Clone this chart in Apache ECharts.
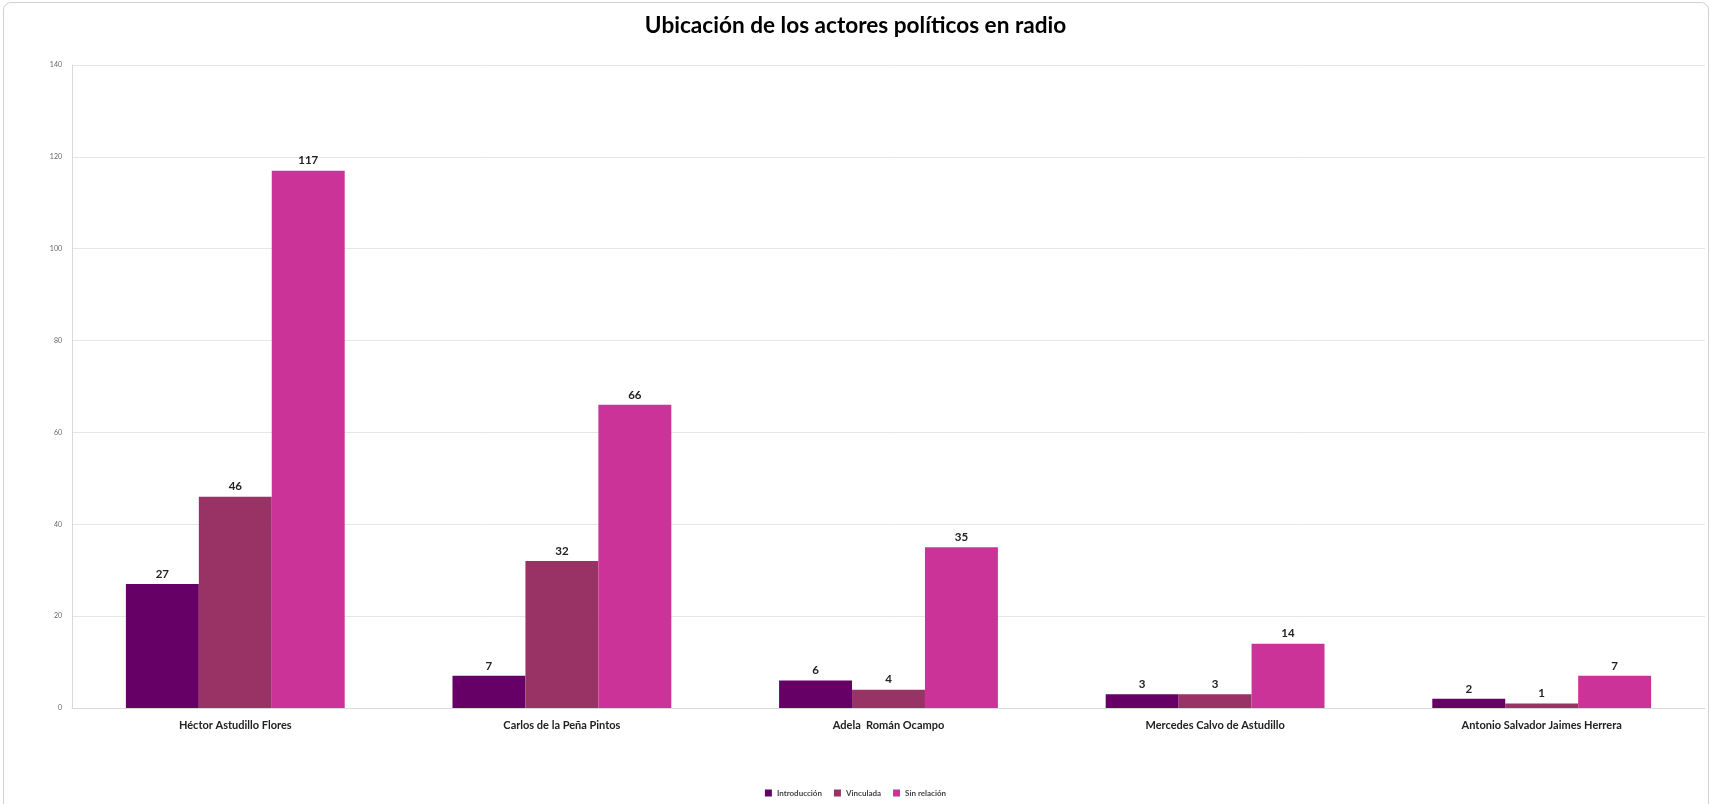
<!DOCTYPE html>
<html><head><meta charset="utf-8">
<script src="https://cdn.jsdelivr.net/npm/echarts@6/dist/echarts.min.js"></script>
<style>
html,body{margin:0;padding:0;background:#fff;}
#frame{position:absolute;left:3px;top:2px;width:1706px;height:810px;border:1px solid #d0d0d0;border-radius:8px;box-sizing:border-box;}
#chart{position:absolute;left:0;top:0;width:1711px;height:804px;}
</style></head>
<body>
<div id="frame"></div>
<div id="chart"></div>
<script>
const categories = ["Héctor Astudillo Flores","Carlos de la Peña Pintos","Adela  Román Ocampo","Mercedes Calvo de Astudillo","Antonio Salvador Jaimes Herrera"];
const seriesNames = ["Introducción","Vinculada","Sin relación"];
const introduccion = [27,7,6,3,2];
const vinculada = [46,32,4,3,1];
const sinRelacion = [117,66,35,14,7];
const colors = ["#660066","#993366","#CC3399"];
const yTicks = {min:0,max:140,interval:20};

const font = "Lato, 'Open Sans', sans-serif";
const chart = echarts.init(document.getElementById('chart'));
const mk = (name, data, i) => ({
  name, type:'bar', data, barGap:'0%', barCategoryGap:'33%',
  itemStyle:{color:colors[i]},
  label:{show:true,position:'top',color:'#222',fontWeight:'bold',fontSize:11.5,fontFamily:font,distance:4},
  emphasis:{disabled:true}
});
chart.setOption({
  animation:false,
  title:{text:'Ubicación de los actores políticos en radio',left:'center',top:9,
    textStyle:{fontFamily:font,fontWeight:'bold',fontSize:22.6,color:'#000'}},
  legend:{data:seriesNames,bottom:2,itemWidth:7,itemHeight:7,itemGap:12,icon:'rect',
    textStyle:{fontFamily:font,fontSize:8,color:'#444',fontWeight:'bold'}},
  grid:{left:72,right:6,top:65,bottom:96,containLabel:false},
  xAxis:{type:'category',data:categories,
    axisLine:{lineStyle:{color:'#d9d9d9'}},axisTick:{show:false},
    axisLabel:{fontFamily:font,fontWeight:'bold',fontSize:11,color:'#222',margin:12}},
  yAxis:{type:'value',min:yTicks.min,max:yTicks.max,interval:yTicks.interval,
    axisLine:{show:true,lineStyle:{color:'#d9d9d9'}},axisTick:{show:false},
    splitLine:{lineStyle:{color:'#e6e6e6'}},
    axisLabel:{fontFamily:font,fontSize:7,color:'#666',margin:10}},
  series:[mk(seriesNames[0],introduccion,0),mk(seriesNames[1],vinculada,1),mk(seriesNames[2],sinRelacion,2)]
});
</script>
</body></html>
